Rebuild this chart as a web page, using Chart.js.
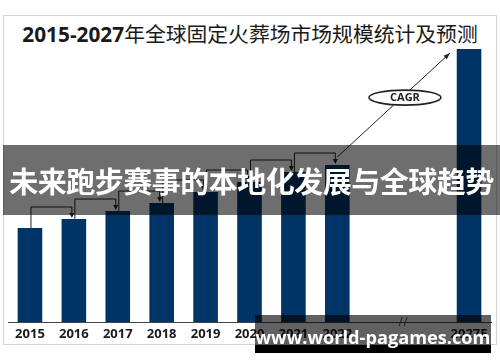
<!DOCTYPE html>
<html>
<head>
<meta charset="utf-8">
<script src="https://cdn.jsdelivr.net/npm/chart.js"></script>
<style>
  body { margin: 0; background: #fff; }
  #wrap { position: relative; width: 500px; height: 362px; overflow: hidden; }
  #frame { position: absolute; left: 3px; top: 15px; width: 492px; height: 328px; border: 1px solid #d4d4d4; }
  #title { position: absolute; left: 0; top: 20px; width: 500px; text-align: center; font-size: 20.8px; color: #1a1a1a; white-space: nowrap;
           font-family: "Noto Sans CJK SC", "Noto Sans", sans-serif; line-height: 26px; }
  #title b { font-family: "Open Sans", "Liberation Sans", sans-serif; font-weight: 700; }
  canvas { position: absolute; left: 0; top: 0; }
  #banner { position: absolute; left: 3px; top: 145px; width: 497px; height: 70px; background: rgba(0,0,0,0.57);
            color: #fff; font-family: "Noto Sans CJK SC", sans-serif; font-weight: 700; font-size: 29px; line-height: 70px;
            text-align: center; white-space: nowrap; letter-spacing: -0.5px; }
  #mark { position: absolute; left: 255px; top: 315px; width: 236px; height: 38px;
          background: linear-gradient(to bottom, rgba(0,0,0,0.62) 0, rgba(0,0,0,0.62) 78%, #000 78%, #000 100%);
          color: #fff; font-family: "Open Sans", "Noto Sans", sans-serif; font-weight: 700; font-size: 18.2px;
          line-height: 44px; text-align: center; white-space: nowrap; }
</style>
</head>
<body>
<div id="wrap">
  <div id="frame"></div>
  <div id="title"><b>2015-2027</b>年全球固定火葬场市场规模统计及预测</div>
  <canvas id="chart" width="500" height="362"></canvas>
  <div id="banner">未来跑步赛事的本地化发展与全球趋势</div>
  <div id="mark">www.world-pagames.com</div>
</div>
<script>
// categories and values (relative market size, no axis ticks in source)
var years = ["2015", "2016", "2017", "2018", "2019", "2020", "2021", "2022", "", "", "2027E"];
var marketSize = [94, 103, 111, 119, 130, 140, 150, 157, null, null, 273];
var barColor = "#003366";

function drawArrowDown(ctx, x, y) {
    ctx.beginPath();
    ctx.moveTo(x - 2.5, y - 5);
    ctx.lineTo(x + 2.5, y - 5);
    ctx.lineTo(x, y);
    ctx.closePath();
    ctx.fill();
}

// step brackets between consecutive years, CAGR arrow and axis break
var annotate = {
    id: "annotate",
    afterDatasetsDraw: function(chart) {
        var ctx = chart.ctx;
        var xs = chart.scales.x, ys = chart.scales.y;
        ctx.save();
        ctx.strokeStyle = "#222";
        ctx.fillStyle = "#222";
        ctx.lineWidth = 1;

        for (var i = 0; i < 7; i++) {
            var x1 = xs.getPixelForValue(i) + 1;
            var x2 = xs.getPixelForValue(i + 1) - 2;
            var y1 = ys.getPixelForValue(marketSize[i]);
            var y2 = ys.getPixelForValue(marketSize[i + 1]);
            var yb = y2 - 12;
            ctx.beginPath();
            ctx.moveTo(x1, y1);
            ctx.lineTo(x1, yb);
            ctx.lineTo(x2, yb);
            ctx.lineTo(x2, y2 - 4);
            ctx.stroke();
            drawArrowDown(ctx, x2, y2 - 1);
        }

        // CAGR line
        var sx = xs.getPixelForValue(7), sy = ys.getPixelForValue(marketSize[7]) - 8;
        var ex = xs.getPixelForValue(10) - 19, ey = ys.getPixelForValue(marketSize[10]) + 4;
        ctx.beginPath();
        ctx.moveTo(sx, sy);
        ctx.lineTo(ex, ey);
        ctx.stroke();
        var ang = Math.atan2(ey - sy, ex - sx);
        ctx.beginPath();
        ctx.moveTo(ex, ey);
        ctx.lineTo(ex - 7 * Math.cos(ang - 0.35), ey - 7 * Math.sin(ang - 0.35));
        ctx.lineTo(ex - 7 * Math.cos(ang + 0.35), ey - 7 * Math.sin(ang + 0.35));
        ctx.closePath();
        ctx.fill();

        var cx = sx + (ex - sx) * 0.6, cy = sy + (ey - sy) * 0.6 + 3;
        ctx.beginPath();
        ctx.ellipse(cx, cy, 36, 7.5, 0, 0, Math.PI * 2);
        ctx.fillStyle = "#fff";
        ctx.fill();
        ctx.lineWidth = 1.6;
        ctx.stroke();
        ctx.fillStyle = "#222";
        ctx.font = "bold 11px 'Open Sans', sans-serif";
        ctx.textAlign = "center";
        ctx.textBaseline = "middle";
        ctx.fillText("CAGR", cx, cy + 0.5);

        // axis break
        var bx = (xs.getPixelForValue(8) + xs.getPixelForValue(9)) / 2;
        var by = chart.chartArea.bottom;
        ctx.lineWidth = 1;
        ctx.strokeStyle = "#555";
        ctx.beginPath();
        ctx.moveTo(bx - 4, by + 4); ctx.lineTo(bx - 1, by - 5);
        ctx.moveTo(bx + 1, by + 4); ctx.lineTo(bx + 4, by - 5);
        ctx.stroke();
        ctx.restore();
    }
};

new Chart(document.getElementById("chart"), {
    type: "bar",
    data: {
        labels: years,
        datasets: [{
            data: marketSize,
            backgroundColor: barColor,
            categoryPercentage: 1,
            barPercentage: 0.56
        }]
    },
    options: {
        responsive: false,
        animation: false,
        layout: { padding: { left: 8, right: 9, top: 42, bottom: 0 } },
        plugins: { legend: { display: false }, tooltip: { enabled: false } },
        scales: {
            x: {
                grid: { display: false, drawTicks: false },
                border: { display: true, color: "#444", width: 1 },
                ticks: { color: "#1a1a1a", padding: 4, maxRotation: 0, autoSkip: false,
                         font: { family: "'Open Sans', 'Liberation Sans', sans-serif", size: 13, weight: "bold" } },
                afterFit: function(scale) { scale.height = 40; }
            },
            y: { display: false, min: 0, max: 280 }
        }
    },
    plugins: [annotate]
});
</script>
</body>
</html>
